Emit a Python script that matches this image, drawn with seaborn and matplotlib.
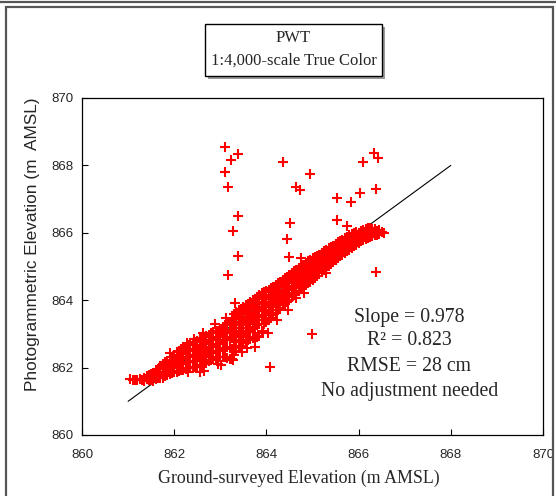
import numpy as np
import pandas as pd
import matplotlib
matplotlib.use("Agg")
import matplotlib.pyplot as plt
from matplotlib.patches import Rectangle
from matplotlib.lines import Line2D
import seaborn as sns

# Ground-surveyed vs photogrammetric elevations (m AMSL), main cluster by column
band_columns = {
    861.05: [861.65],
    861.15: [861.62],
    861.25: [861.66],
    861.35: [861.60, 861.70],
    861.45: [861.63, 861.78],
    861.55: [861.60, 861.72, 861.85],
    861.65: [861.68, 861.82, 861.95],
    861.75: [861.70, 861.85, 862.00, 862.12],
    861.85: [861.78, 861.92, 862.05, 862.20],
    861.95: [861.85, 862.00, 862.15, 862.30],
    862.05: [861.88, 862.02, 862.18, 862.33, 862.45],
    862.15: [861.92, 862.10, 862.25, 862.40, 862.55],
    862.25: [861.95, 862.12, 862.30, 862.45, 862.62],
    862.35: [862.00, 862.18, 862.35, 862.52, 862.70],
    862.45: [862.02, 862.20, 862.38, 862.55, 862.75],
    862.55: [861.88, 862.08, 862.28, 862.45, 862.62, 862.85],
    862.65: [861.90, 862.10, 862.32, 862.50, 862.70, 862.90],
    862.75: [862.20, 862.40, 862.58, 862.78, 862.98],
    862.85: [862.25, 862.45, 862.65, 862.85, 863.05],
    862.95: [862.30, 862.50, 862.70, 862.90, 863.10],
    863.05: [862.32, 862.55, 862.80, 863.00, 863.20],
    863.15: [862.28, 862.60, 862.85, 863.05, 863.30],
    863.25: [862.25, 862.55, 862.90, 863.12, 863.40],
    863.35: [862.50, 862.75, 863.00, 863.25, 863.50, 863.65],
    863.45: [862.65, 862.90, 863.10, 863.35, 863.60, 863.75],
    863.55: [862.80, 863.00, 863.25, 863.45, 863.70, 863.85],
    863.65: [862.85, 863.10, 863.35, 863.55, 863.80, 863.95],
    863.75: [862.62, 862.90, 863.20, 863.45, 863.65, 863.88, 864.05],
    863.85: [862.95, 863.30, 863.55, 863.75, 863.95, 864.15],
    863.95: [863.30, 863.55, 863.80, 864.05, 864.25],
    864.05: [863.40, 863.65, 863.90, 864.10, 864.30],
    864.15: [863.55, 863.80, 864.00, 864.20, 864.40],
    864.25: [863.70, 863.92, 864.12, 864.30, 864.50],
    864.35: [863.85, 864.05, 864.25, 864.45, 864.60],
    864.45: [863.95, 864.15, 864.35, 864.55, 864.70],
    864.55: [864.10, 864.30, 864.50, 864.65, 864.82],
    864.65: [864.06, 864.20, 864.40, 864.58, 864.75, 864.90],
    864.75: [864.35, 864.52, 864.70, 864.85, 865.00],
    864.85: [864.45, 864.62, 864.80, 864.95, 865.10],
    864.95: [864.55, 864.72, 864.88, 865.05, 865.20],
    865.05: [864.65, 864.82, 864.98, 865.12, 865.28],
    865.15: [864.80, 864.95, 865.10, 865.22, 865.35],
    865.25: [864.90, 865.05, 865.20, 865.32, 865.45],
    865.35: [865.00, 865.15, 865.30, 865.42, 865.55],
    865.45: [865.12, 865.28, 865.40, 865.52, 865.62],
    865.55: [865.25, 865.38, 865.50, 865.62, 865.72],
    865.65: [865.35, 865.48, 865.60, 865.70, 865.80],
    865.75: [865.45, 865.58, 865.70, 865.80, 865.88],
    865.85: [865.55, 865.68, 865.78, 865.88, 865.95],
    865.95: [865.65, 865.75, 865.85, 865.95, 866.02],
    866.05: [865.75, 865.85, 865.95, 866.05],
    866.15: [865.82, 865.92, 866.02, 866.10],
    866.25: [865.88, 865.98, 866.08, 866.15],
    866.35: [865.92, 866.02, 866.12],
    866.45: [865.95, 866.08],
    866.55: [865.98],
}

# second interleaved set of survey points inside the cluster
band_columns_mid = {
    861.10: [861.64],
    861.20: [861.64],
    861.30: [861.63],
    861.40: [861.66, 861.74],
    861.50: [861.62, 861.70, 861.80],
    861.60: [861.65, 861.78, 861.90],
    861.70: [861.70, 861.83, 861.97, 862.06],
    861.80: [861.74, 861.88, 862.02, 862.16],
    861.90: [861.82, 861.96, 862.10, 862.24],
    862.00: [861.86, 862.00, 862.12, 862.26, 862.38],
    862.10: [861.90, 862.06, 862.22, 862.36, 862.50],
    862.20: [861.94, 862.10, 862.28, 862.42, 862.58],
    862.30: [861.98, 862.16, 862.32, 862.48, 862.66],
    862.40: [862.00, 862.20, 862.36, 862.54, 862.72],
    862.50: [862.05, 862.24, 862.42, 862.58, 862.80],
    862.60: [862.09, 862.30, 862.48, 862.66, 862.88],
    862.70: [862.15, 862.36, 862.54, 862.74, 862.94],
    862.80: [862.22, 862.42, 862.62, 862.82, 863.02],
    862.90: [862.28, 862.48, 862.68, 862.88, 863.08],
    863.00: [862.30, 862.52, 862.75, 862.95, 863.15],
    863.10: [862.30, 862.58, 862.82, 863.02, 863.25],
    863.20: [862.26, 862.58, 862.88, 863.10, 863.35],
    863.30: [862.38, 862.65, 862.95, 863.18, 863.45, 863.58],
    863.40: [862.58, 862.82, 863.05, 863.30, 863.55, 863.70],
    863.50: [862.72, 862.95, 863.18, 863.40, 863.65, 863.80],
    863.60: [862.82, 863.05, 863.30, 863.50, 863.75, 863.90],
    863.70: [862.88, 863.15, 863.40, 863.60, 863.84, 864.00],
    863.80: [862.92, 863.25, 863.50, 863.70, 863.92, 864.10],
    863.90: [863.10, 863.42, 863.68, 863.90, 864.20],
    864.00: [863.35, 863.60, 863.85, 864.08, 864.28],
    864.10: [863.48, 863.72, 863.95, 864.15, 864.35],
    864.20: [863.62, 863.86, 864.06, 864.25, 864.45],
    864.30: [863.78, 863.98, 864.18, 864.38, 864.55],
    864.40: [863.90, 864.10, 864.30, 864.50, 864.65],
    864.50: [864.02, 864.22, 864.42, 864.60, 864.76],
    864.60: [864.15, 864.35, 864.54, 864.70, 864.86],
    864.70: [864.28, 864.46, 864.64, 864.80, 864.95],
    864.80: [864.40, 864.57, 864.75, 864.90, 865.05],
    864.90: [864.50, 864.67, 864.84, 865.00, 865.15],
    865.00: [864.60, 864.77, 864.93, 865.08, 865.24],
    865.10: [864.72, 864.88, 865.04, 865.17, 865.32],
    865.20: [864.85, 865.00, 865.15, 865.27, 865.40],
    865.30: [864.95, 865.10, 865.25, 865.37, 865.50],
    865.40: [865.06, 865.22, 865.35, 865.47, 865.58],
    865.50: [865.18, 865.33, 865.45, 865.57, 865.67],
    865.60: [865.30, 865.43, 865.55, 865.66, 865.76],
    865.70: [865.40, 865.53, 865.65, 865.75, 865.84],
    865.80: [865.50, 865.63, 865.74, 865.84, 865.92],
    865.90: [865.60, 865.72, 865.82, 865.92, 865.99],
    866.00: [865.70, 865.80, 865.90, 866.00],
    866.10: [865.78, 865.88, 865.98, 866.08],
    866.20: [865.85, 865.95, 866.05, 866.13],
    866.30: [865.90, 866.00, 866.10],
    866.40: [865.93, 866.05],
    866.50: [866.02],
}

# scattered points along the ragged edges of the cluster
edge_ground = [861.91, 862.27, 862.42, 862.88, 862.30, 862.95, 863.02, 863.47,
               863.58, 863.92, 864.22, 864.47, 863.12, 862.62, 864.82, 865.30]
edge_photo = [862.42, 862.72, 862.86, 863.30, 861.86, 862.12, 862.08, 862.45,
              862.58, 863.02, 863.40, 863.72, 863.48, 863.02, 864.22, 864.80]

# Points far from the 1:1 line
outlier_ground = [863.10, 863.38, 863.23, 863.10, 863.17, 863.38, 863.28, 863.38,
                  863.17, 864.37, 864.95, 864.64, 864.73, 864.51, 864.45, 864.50,
                  864.74, 866.09, 866.34, 866.41, 866.38, 866.02, 865.54, 865.83,
                  865.54, 865.74, 866.38, 864.98, 864.08, 864.04, 863.32, 863.28,
                  863.50]
outlier_photo = [868.54, 868.33, 868.16, 867.80, 867.37, 866.50, 866.05, 865.32,
                 864.75, 868.11, 867.74, 867.37, 867.27, 866.28, 865.81, 865.27,
                 865.24, 868.11, 868.38, 868.23, 867.29, 867.19, 867.03, 866.92,
                 866.38, 866.20, 864.85, 863.00, 862.01, 863.02, 863.91, 862.23,
                 862.77]

# 1:1 reference line
line_ground = [861.0, 868.0]
line_photo = [861.0, 868.0]

stats_lines = ["Slope = 0.978", "R\u00b2 = 0.823", "RMSE = 28 cm", "No adjustment needed"]
stats_y = [863.50, 862.79, 862.02, 861.28]
title_lines = ["PWT", "1:4,000-scale True Color"]
ticks = [860, 862, 864, 866, 868, 870]

ground, photo = [], []
for cols in (band_columns, band_columns_mid):
    for gx, ys in cols.items():
        ground += [gx] * len(ys)
        photo += ys
ground += edge_ground + outlier_ground
photo += edge_photo + outlier_photo
df = pd.DataFrame({"ground": ground, "photo": photo})

sns.set_theme(style="white")
plt.rcParams["font.family"] = ["Liberation Sans", "DejaVu Sans"]

W, H = 556, 496
fig = plt.figure(figsize=(W / 100, H / 100), dpi=100)
fig.patch.set_facecolor("white")

# page frame lines
fig.add_artist(Line2D([0, 1], [1 - 2 / H, 1 - 2 / H], transform=fig.transFigure,
                      color="#555555", lw=1.6))
fig.add_artist(Rectangle((6 / W, -0.01), (553 - 6) / W, 1 - 7 / H + 0.01,
                         transform=fig.transFigure, fill=False,
                         edgecolor="#555555", lw=1.6))

ax = fig.add_axes([82 / W, 1 - 435 / H, (543 - 82) / W, (435 - 98) / H])

# reference line sits beneath the point cloud
sns.lineplot(x=line_ground, y=line_photo, color="black", lw=0.8, ax=ax, zorder=2)
sns.scatterplot(data=df, x="ground", y="photo", marker="+", color="red",
                s=62, linewidth=1.5, ax=ax, legend=False, zorder=3)

ax.set_xlim(860, 870)
ax.set_ylim(860, 870)
ax.set_xticks(ticks)
ax.set_yticks(ticks)
ax.tick_params(axis="both", direction="in", length=4, width=0.8, color="black",
               labelsize=9.5, bottom=True, left=True, top=False, right=False)
ax.tick_params(axis="x", pad=10)
ax.tick_params(axis="y", pad=6)
for sp in ax.spines.values():
    sp.set_visible(True)
    sp.set_color("black")
    sp.set_linewidth(0.9)

ax.set_ylabel("Photogrammetric Elevation (m  AMSL)", fontsize=12.4,
              family=["Liberation Sans"])
ax.yaxis.set_label_coords(-42 / 461, 0.565)
ax.set_xlabel("Ground-surveyed Elevation (m AMSL)", fontsize=12.9,
              family=["Liberation Serif"])
ax.xaxis.set_label_coords(0.471, -35 / 337)

# fit statistics
for txt, yv in zip(stats_lines, stats_y):
    ax.text(867.1, yv, txt, ha="center", va="center", fontsize=14.2,
            family=["Liberation Serif"], zorder=5)

# title box with drop shadow
bx0, bx1, by0, by1 = 205, 382, 24, 76
fig.add_artist(Rectangle(((bx0 + 3) / W, 1 - (by1 + 3) / H), (bx1 - bx0) / W,
                         (by1 - by0) / H, transform=fig.transFigure,
                         facecolor="#9a9a9a", edgecolor="none"))
fig.add_artist(Rectangle((bx0 / W, 1 - by1 / H), (bx1 - bx0) / W, (by1 - by0) / H,
                         transform=fig.transFigure, facecolor="white",
                         edgecolor="black", lw=1.0))
fig.text((bx0 + bx1) / 2 / W, 1 - 38 / H, title_lines[0], ha="center", va="center",
         fontsize=12, family=["Liberation Serif"])
fig.text((bx0 + bx1) / 2 / W, 1 - 61 / H, title_lines[1], ha="center", va="center",
         fontsize=12, family=["Liberation Serif"])

fig.savefig("out.png", dpi=100)
